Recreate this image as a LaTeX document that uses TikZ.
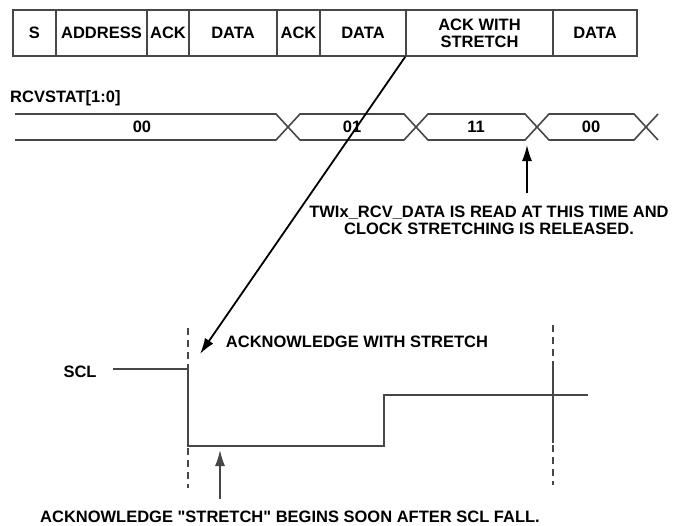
\documentclass[tikz,border=0pt]{standalone}
\usepackage{fontspec}
\setmainfont{Liberation Sans}[Ligatures=TeXOff]
\usepackage{tikz}
\usetikzlibrary{arrows.meta,positioning}
\definecolor{wire}{HTML}{474747}

\begin{document}
\begin{tikzpicture}[x=1pt,y=-1pt,font=\fontsize{16.5}{17}\selectfont\bfseries,
cell/.style={draw=wire,line width=1.6pt,minimum height=46pt,inner sep=0pt,align=center},
bus/.style={wire,line width=1.6pt},
sig/.style={wire,line width=1.7pt},
guide/.style={wire,line width=1.6pt,dash pattern=on 7pt off 5pt},
pointer/.style={black,line width=1.8pt,-{Latex[length=16pt,width=10pt]}},
lbl/.style={inner sep=0pt}]
\useasboundingbox (0,0) rectangle (677,525);
\foreach \a/\b/\t [count=\i] in %
{13/56/S,56/147/ADDRESS,147/189/ACK,189/277/DATA,277/320/ACK,320/406/DATA,406/553/{ACK WITH\\STRETCH},553/637/DATA} {
   \node[cell,minimum width=\b pt-\a pt] (c\i) at ({(\a+\b)/2},33) {\t};
}
\node[lbl,anchor=west] (rcv) at (10,98) {RCVSTAT[1:0]};
\draw[bus] (15,114) -- (276,114) -- (300,140) -- (404,140) -- (428,114) -- (525,114) -- (549,140) -- (634,140) -- (658,114);
\draw[bus] (15,140) -- (276,140) -- (300,114) -- (404,114) -- (428,140) -- (525,140) -- (549,114) -- (634,114) -- (658,140);
\foreach \x/\v [count=\i] in %
{142/00,352/01,476/11,591/00} {
   \node[lbl] (b\i) at (\x,127) {\v};
}
\coordinate (rd) at (527,145);
\node[lbl,align=center] (twi) at (489,220) {TWIx\_RCV\_DATA IS READ AT THIS TIME AND\\CLOCK STRETCHING IS RELEASED.};
\draw[pointer,line width=1.4pt] (rd |- twi.north) ++(0,-12) -- (rd);
\coordinate (fall) at (200,354);
\draw[pointer] (c7.south west) -- (fall);
\node[lbl] (ackw) at (357,342) {ACKNOWLEDGE WITH STRETCH};
\node[lbl] (scl) at (80,372) {SCL};
\draw[guide] (188,328) -- (188,488);
\draw[guide] (553,325) -- (553,485);
\draw[sig] (553,363) -- (553,443);
\draw[sig] (113,369) -- (188,369) -- (188,446) -- (384,446) -- (384,395) -- (588,395);
\coordinate (st) at (220,450);
\node[lbl] (stx) at (290,517) {ACKNOWLEDGE "STRETCH" BEGINS SOON AFTER SCL FALL.};
\draw[pointer,wire,line width=1.4pt] (st |- stx.north) ++(0,-12) -- (st);
\end{tikzpicture}
\end{document}
